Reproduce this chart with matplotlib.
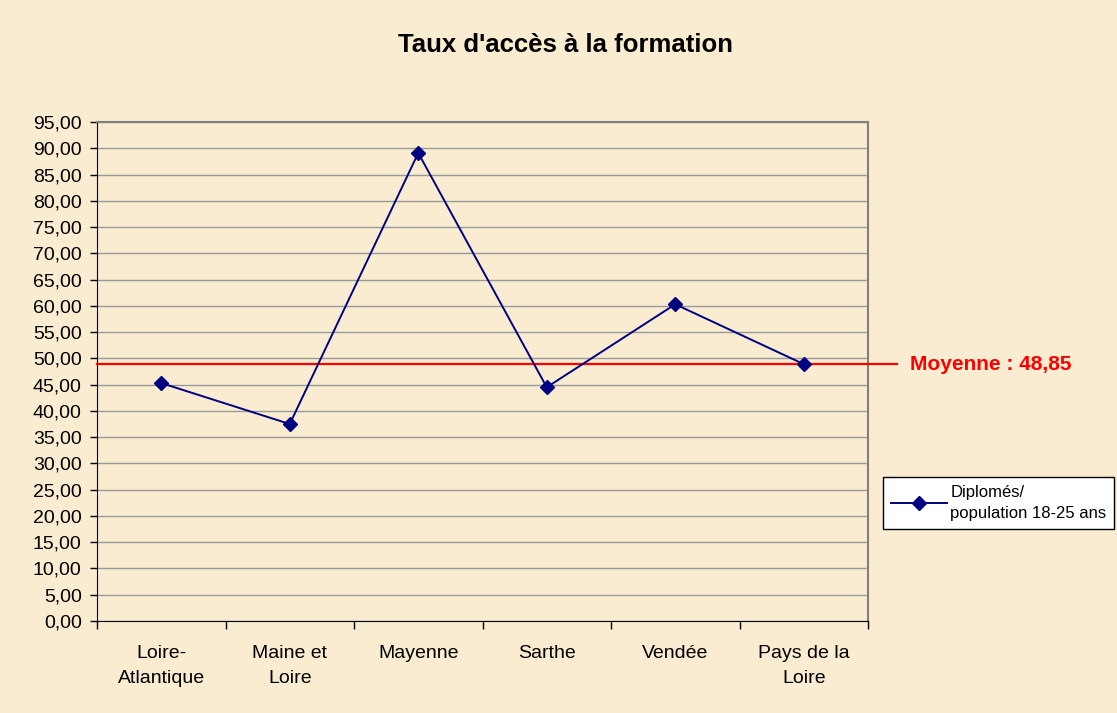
import matplotlib
matplotlib.use("Agg")
import matplotlib.pyplot as plt
import matplotlib.transforms as mtransforms

plt.rcParams["font.family"] = ["Liberation Sans", "DejaVu Sans"]

# Data
categories = ["Loire-\nAtlantique", "Maine et\nLoire", "Mayenne", "Sarthe", "Vendée", "Pays de la\nLoire"]
taux = [45.3, 37.5, 89.1, 44.5, 60.3, 48.9]
moyenne = 48.85
yticks = list(range(0, 100, 5))

BG = "#F9ECD0"
NAVY = "#000080"

fig = plt.figure(figsize=(11.17, 7.13), dpi=100, facecolor=BG)
ax = fig.add_axes([97 / 1117, 92 / 713, 771 / 1117, 499 / 713])
ax.set_facecolor(BG)

x = list(range(len(categories)))
ax.plot(x, taux, color=NAVY, lw=1.4, marker="D", markersize=7,
        label="Diplomés/\npopulation 18-25 ans", zorder=4)

# average line, sticking out a bit past the plot area
ax.axhline(moyenne, xmin=0, xmax=(897 - 97) / 771, color="red", lw=1.6,
           clip_on=False, zorder=3)
trans = mtransforms.blended_transform_factory(fig.transFigure, ax.transData)
ax.text(910 / 1117, moyenne, "Moyenne : 48,85", transform=trans, color="red",
        fontsize=15, fontweight="bold", va="center", ha="left")

# axes
ax.set_xlim(-0.5, len(categories) - 0.5)
ax.set_ylim(0, 95)
ax.set_yticks(yticks)
ax.set_yticklabels([f"{v:.2f}".replace(".", ",") for v in yticks], fontsize=14)
ax.yaxis.grid(True, color="#999999", lw=1)
ax.set_axisbelow(True)

ax.set_xticks([i - 0.5 for i in range(len(categories) + 1)])
ax.set_xticklabels([])
ax.set_xticks(x, minor=True)
ax.set_xticklabels(categories, minor=True, fontsize=14, linespacing=1.65)
ax.tick_params(axis="x", which="major", direction="out", length=6, width=1)
ax.tick_params(axis="x", which="minor", length=0, pad=17)
ax.tick_params(axis="y", direction="out", length=5, width=1, pad=6)

for side in ["left", "bottom"]:
    ax.spines[side].set_color("black")
for side in ["top", "right"]:
    ax.spines[side].set_color("#808080")
    ax.spines[side].set_linewidth(1.5)

fig.text(566 / 1117, 1 - 45 / 713, "Taux d'accès à la formation",
         ha="center", va="center", fontsize=18.5, fontweight="bold")

leg = fig.legend(loc="upper left", bbox_to_anchor=(883 / 1117, 1 - 477 / 713),
                 frameon=True, fancybox=False, edgecolor="black", framealpha=1,
                 fontsize=12, handlelength=3.4, borderaxespad=0, borderpad=0.45,
                 handletextpad=0.2)
leg.get_frame().set_linewidth(1)
for t in leg.get_texts():
    t.set_linespacing(1.55)

fig.savefig("out.png", dpi=100, facecolor=BG)
